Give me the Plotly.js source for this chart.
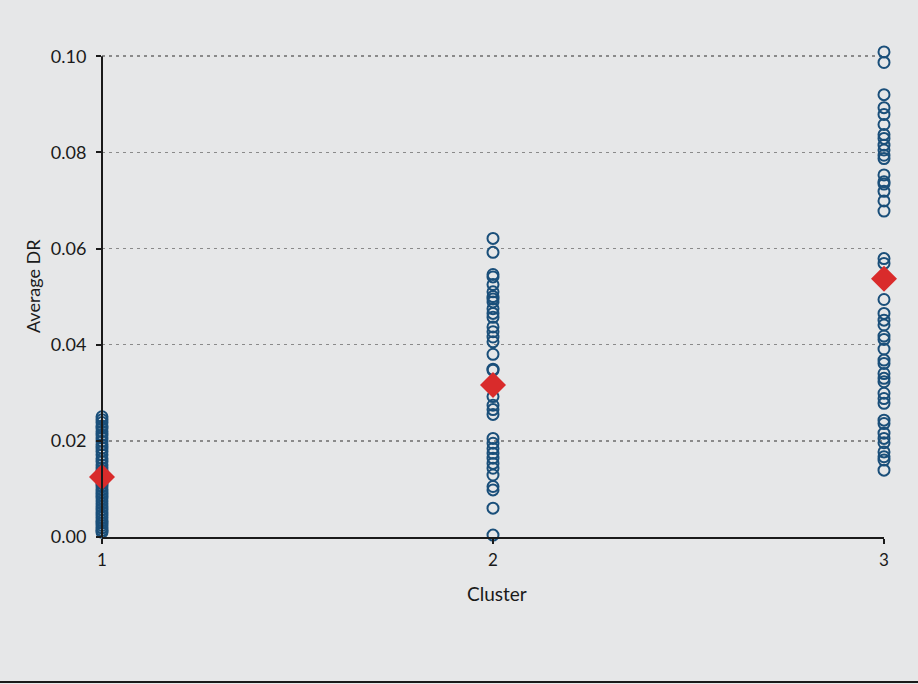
<!DOCTYPE html>
<html>
<head>
<meta charset="utf-8">
<script src="https://cdn.plot.ly/plotly-3.0.1.min.js"></script>
<style>
  html, body { margin: 0; padding: 0; background: #e6e7e8; }
  #chart { width: 918px; height: 684px; }
</style>
</head>
<body>
<div id="chart"></div>
<script>
// Average default rate per member, grouped by cluster
const clusterIds = [1, 2, 3];
const tickLabels = ['1', '2', '3'];

const cluster1DR = [
  0.0250, 0.0244, 0.0238, 0.0231, 0.0226, 0.0219, 0.0212, 0.0206, 0.0199, 0.0192,
  0.0185, 0.0178, 0.0171, 0.0163, 0.0157, 0.0150, 0.0144, 0.0138, 0.0131, 0.0124,
  0.0118, 0.0112, 0.0106, 0.0099, 0.0093, 0.0087, 0.0081, 0.0075, 0.0069, 0.0063,
  0.0057, 0.0051, 0.0045, 0.0040, 0.0034, 0.0029, 0.0024, 0.0019, 0.0014, 0.0010
];
const cluster2DR = [
  0.0621, 0.0592, 0.0546, 0.0541, 0.0525, 0.0510, 0.0500, 0.0495, 0.0489, 0.0475,
  0.0465, 0.0457, 0.0437, 0.0427, 0.0416, 0.0406, 0.0380, 0.0349, 0.0347, 0.0292,
  0.0274, 0.0265, 0.0255, 0.0205, 0.0195, 0.0184, 0.0174, 0.0164, 0.0153, 0.0143,
  0.0129, 0.0105, 0.0098, 0.0060, 0.0004
];
const cluster3DR = [
  0.1009, 0.0987, 0.0920, 0.0893, 0.0879, 0.0858, 0.0837, 0.0829, 0.0815, 0.0805,
  0.0794, 0.0787, 0.0753, 0.0739, 0.0734, 0.0719, 0.0699, 0.0678, 0.0579, 0.0569,
  0.0494, 0.0465, 0.0451, 0.0441, 0.0418, 0.0411, 0.0391, 0.0368, 0.0361, 0.0340,
  0.0330, 0.0323, 0.0299, 0.0288, 0.0278, 0.0243, 0.0236, 0.0216, 0.0205, 0.0196,
  0.0177, 0.0167, 0.0160, 0.0139
];
// Cluster averages (red diamonds)
const clusterMeanDR = [0.0125, 0.0316, 0.0537];

const groups = [cluster1DR, cluster2DR, cluster3DR];
const memberX = [];
const memberY = [];
groups.forEach((vals, i) => {
  vals.forEach(v => { memberX.push(clusterIds[i]); memberY.push(v); });
});

const blue = '#1a4f7a';
const red = '#d92b2b';
const ink = '#1a1a1a';
const fontFam = 'Lato, "Open Sans", sans-serif';

// y range reaches a little past 0.10 so the highest member stays visible;
// the vertical axis line itself stops at 0.10
const yTop = 0.1015;
const yAxisEnd = 0.1;

const traces = [
  {
    type: 'scatter', mode: 'markers', x: memberX, y: memberY,
    marker: { symbol: 'circle-open', size: 11, color: blue, line: { width: 2, color: blue } },
    cliponaxis: false, hoverinfo: 'x+y', showlegend: false
  },
  {
    type: 'scatter', mode: 'markers', x: clusterIds, y: clusterMeanDR,
    marker: { symbol: 'diamond', size: 20, color: red, line: { width: 0 } },
    cliponaxis: false, hoverinfo: 'x+y', showlegend: false
  }
];

const plotH = 481 * yTop / yAxisEnd;
const topMargin = 537 - plotH;

const layout = {
  width: 918, height: 684,
  paper_bgcolor: '#e6e7e8', plot_bgcolor: '#e6e7e8',
  margin: { l: 102, r: 34, t: topMargin, b: 147 },
  font: { family: fontFam, size: 18, color: ink },
  showlegend: false,
  xaxis: {
    range: [1, 3], tickvals: clusterIds, ticktext: tickLabels,
    showgrid: false, zeroline: false,
    showline: true, linecolor: ink, linewidth: 2,
    ticks: 'outside', ticklen: 5, tickwidth: 2, tickcolor: ink,
    ticklabelstandoff: 2,
    tickfont: { size: 17, family: fontFam }
  },
  yaxis: {
    range: [0, yTop], tickvals: [0, 0.02, 0.04, 0.06, 0.08, 0.1],
    ticktext: ['0.00', '0.02', '0.04', '0.06', '0.08', '0.10'],
    showgrid: true, gridcolor: '#8a8a8a', griddash: '3px,4px', gridwidth: 1.5,
    zeroline: false, showline: false,
    ticks: 'outside', ticklen: 5, tickwidth: 2, tickcolor: ink,
    ticklabelstandoff: 6,
    tickfont: { size: 18, family: fontFam }
  },
  annotations: [
    {
      text: 'Cluster', xref: 'paper', yref: 'paper',
      x: (497 - 102) / 782, y: -(594 - 537) / plotH,
      xanchor: 'center', yanchor: 'middle', showarrow: false,
      font: { size: 19, family: fontFam, color: ink }
    },
    {
      text: 'Average DR', xref: 'paper', yref: 'paper', textangle: -90,
      x: -(102 - 33) / 782, y: (537 - 286) / plotH,
      xanchor: 'center', yanchor: 'middle', showarrow: false,
      font: { size: 18, family: fontFam, color: ink }
    }
  ],
  shapes: [
    {
      // vertical axis line from 0.00 to 0.10
      type: 'line', xref: 'paper', yref: 'paper',
      x0: 0, x1: 0, y0: 0, y1: yAxisEnd / yTop,
      line: { color: ink, width: 2 }
    },
    {
      // rule along the bottom of the figure
      type: 'line', xref: 'paper', yref: 'paper',
      x0: -102 / 782, x1: (918 - 102) / 782,
      y0: -145 / plotH, y1: -145 / plotH,
      line: { color: ink, width: 2 }
    }
  ]
};

Plotly.newPlot('chart', traces, layout, { displayModeBar: false, staticPlot: true });
</script>
</body>
</html>
